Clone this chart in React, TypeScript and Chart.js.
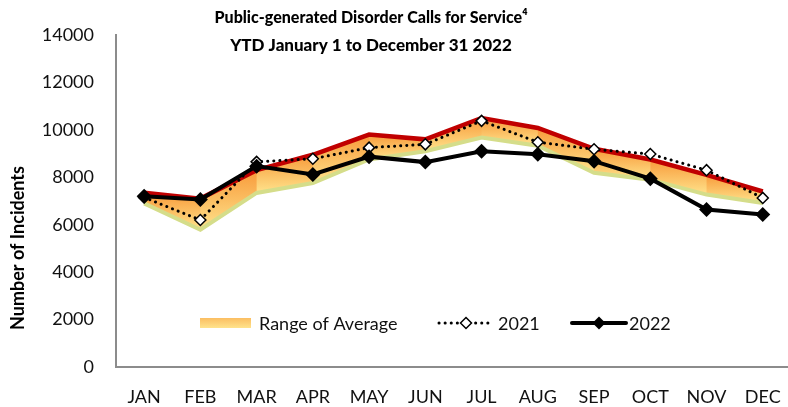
import React, { useEffect, useRef } from "react";
import { Chart, registerables } from "chart.js";

Chart.register(...registerables);

const months = ["JAN", "FEB", "MAR", "APR", "MAY", "JUN", "JUL", "AUG", "SEP", "OCT", "NOV", "DEC"];
const avgHigh = [7350, 7100, 8300, 8950, 9800, 9600, 10500, 10080, 9200, 8750, 8100, 7400];
const avgLow = [6900, 5790, 7340, 7760, 8750, 9100, 9680, 9330, 8190, 7900, 7270, 6920];
const calls2021 = [7150, 6200, 8650, 8780, 9250, 9390, 10380, 9480, 9180, 8980, 8300, 7130];
const calls2022 = [7200, 7060, 8470, 8120, 8870, 8640, 9100, 8970, 8680, 7940, 6640, 6430];

const titleLines = ["Public-generated Disorder Calls for Service\u2074", "YTD January 1 to December 31 2022"];
const yAxisTitle = "Number of Incidents";
const legendLabels = ["Range of Average", "2021", "2022"];

const FONT = "Lato, 'Open Sans', sans-serif";
const ORANGE = "#F89A3A";
const LIGHT_ORANGE = "#FBBE62";
const YELLOW = "#FFE38C";

const bandPlugin = {
  id: "bandPlugin",
  beforeDatasetsDraw(chart: any) {
    const { ctx, scales } = chart;
    const xs = scales.x;
    const ys = scales.y;
    ctx.save();
    for (let i = 0; i < months.length - 1; i++) {
      const x0 = xs.getPixelForValue(i);
      const x1 = xs.getPixelForValue(i + 1);
      const t0 = ys.getPixelForValue(avgHigh[i]);
      const t1 = ys.getPixelForValue(avgHigh[i + 1]);
      const b0 = ys.getPixelForValue(avgLow[i]);
      const b1 = ys.getPixelForValue(avgLow[i + 1]);
      const top = Math.min(t0, t1);
      const bot = Math.max(b0, b1);
      const g = ctx.createLinearGradient(0, top, 0, bot);
      g.addColorStop(0, ORANGE);
      g.addColorStop(0.5, LIGHT_ORANGE);
      g.addColorStop(1, YELLOW);
      ctx.fillStyle = g;
      const e = i < months.length - 2 ? 0.6 : 0;
      const st0 = (t1 - t0) / (x1 - x0);
      const sb0 = (b1 - b0) / (x1 - x0);
      ctx.beginPath();
      ctx.moveTo(x0, t0);
      ctx.lineTo(x1 + e, t1 + st0 * e);
      ctx.lineTo(x1 + e, b1 + sb0 * e);
      ctx.lineTo(x0, b0);
      ctx.closePath();
      ctx.fill();
    }
    ctx.restore();
  },
};

function diamond(ctx: CanvasRenderingContext2D, x: number, y: number, r: number, fill: string, stroke: string, lw: number) {
  ctx.beginPath();
  ctx.moveTo(x, y - r);
  ctx.lineTo(x + r, y);
  ctx.lineTo(x, y + r);
  ctx.lineTo(x - r, y);
  ctx.closePath();
  ctx.fillStyle = fill;
  ctx.fill();
  if (lw > 0) {
    ctx.lineWidth = lw;
    ctx.strokeStyle = stroke;
    ctx.stroke();
  }
}

const decorPlugin = {
  id: "decorPlugin",
  afterDraw(chart: any) {
    const { ctx } = chart;
    ctx.save();
    // Title
    ctx.fillStyle = "#000";
    ctx.textAlign = "center";
    ctx.textBaseline = "middle";
    ctx.font = `900 17px ${FONT}`;
    ctx.fillText(titleLines[0], 371, 18, 313);
    ctx.fillText(titleLines[1], 371, 46, 288);

    // Y axis title
    ctx.save();
    ctx.translate(18, 248);
    ctx.rotate(-Math.PI / 2);
    ctx.font = `bold 18px ${FONT}`;
    ctx.fillText(yAxisTitle, 0, 0, 193);
    ctx.restore();

    // Legend
    const ly = 323;
    const g = ctx.createLinearGradient(0, 318, 0, 328);
    g.addColorStop(0, LIGHT_ORANGE);
    g.addColorStop(1, YELLOW);
    ctx.fillStyle = g;
    ctx.fillRect(200, 318, 51, 10);

    ctx.fillStyle = "#111";
    ctx.textAlign = "left";
    ctx.font = `18px ${FONT}`;
    ctx.fillText(legendLabels[0], 259, ly + 1, 148);

    ctx.save();
    ctx.strokeStyle = "#000";
    ctx.lineWidth = 3;
    ctx.lineCap = "round";
    ctx.setLineDash([0.1, 6]);
    ctx.beginPath();
    ctx.moveTo(439, ly);
    ctx.lineTo(493, ly);
    ctx.stroke();
    ctx.restore();
    diamond(ctx, 466, ly, 5.5, "#fff", "#000", 1.5);
    ctx.fillStyle = "#111";
    ctx.fillText(legendLabels[1], 498, ly + 1, 42);

    ctx.strokeStyle = "#000";
    ctx.lineWidth = 4;
    ctx.lineCap = "round";
    ctx.beginPath();
    ctx.moveTo(572, ly);
    ctx.lineTo(626, ly);
    ctx.stroke();
    diamond(ctx, 599, ly, 6.5, "#000", "#000", 0);
    ctx.fillStyle = "#111";
    ctx.fillText(legendLabels[2], 629, ly + 1, 45);
    ctx.restore();
  },
};

export default function App() {
  const ref = useRef<HTMLCanvasElement>(null);
  useEffect(() => {
    if (!ref.current) return;
    const chart = new Chart(ref.current, {
      type: "line",
      data: {
        labels: months,
        datasets: [
          {
            label: "2022",
            data: calls2022,
            borderColor: "#000",
            backgroundColor: "#000",
            borderWidth: 4,
            pointStyle: "rectRot",
            pointRadius: 7.5,
            pointBorderWidth: 0,
            pointBackgroundColor: "#000",
            tension: 0,
            fill: false,
          },
          {
            label: "2021",
            data: calls2021,
            borderColor: "#000",
            borderWidth: 3,
            borderDash: [0.1, 6],
            borderCapStyle: "round",
            pointStyle: "rectRot",
            pointRadius: 5.5,
            pointBorderWidth: 1.5,
            pointBorderColor: "#000",
            pointBackgroundColor: "#fff",
            tension: 0,
            fill: false,
          },
          {
            label: "Average high",
            data: avgHigh,
            borderColor: "#C00000",
            borderWidth: 4.5,
            pointRadius: 0,
            tension: 0,
            fill: false,
          },
          {
            label: "Average low",
            data: avgLow,
            borderColor: "#D5DD8A",
            borderWidth: 4,
            pointRadius: 0,
            tension: 0,
            fill: false,
          },
        ],
      } as any,
      options: {
        animation: false,
        responsive: false,
        events: [],
        layout: { padding: { top: 35, right: 4, left: 0, bottom: 0 } },
        plugins: {
          legend: { display: false },
          title: { display: false },
          tooltip: { enabled: false },
        },
        scales: {
          x: {
            offset: true,
            grid: { display: false, drawTicks: false },
            border: { display: true, color: "#8c8c8c", width: 2 },
            ticks: { color: "#111", font: { family: FONT, size: 18 }, padding: 19, maxRotation: 0, autoSkip: false },
            afterFit(scale: any) {
              scale.height = 40;
            },
          },
          y: {
            min: 0,
            max: 14000,
            grid: { display: false, drawTicks: false },
            border: { display: true, color: "#8c8c8c", width: 2 },
            ticks: {
              stepSize: 2000,
              color: "#111",
              font: { family: FONT, size: 18 },
              padding: 22,
              callback: (v: any) => String(v),
            },
            afterFit(scale: any) {
              scale.width = 116;
            },
          },
        },
      } as any,
      plugins: [bandPlugin, decorPlugin],
    });
    return () => chart.destroy();
  }, []);
  return (
    <div style={{ position: "fixed", left: 0, top: 0, width: 788, height: 407, overflow: "hidden", background: "#fff" }}>
      <canvas ref={ref} width={800} height={407} style={{ display: "block" }} />
    </div>
  );
}
